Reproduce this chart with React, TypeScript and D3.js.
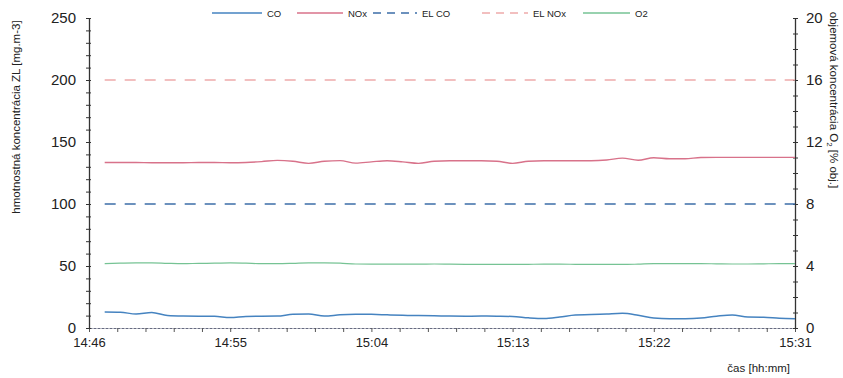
import React, { Component } from 'react'
import * as d3 from 'd3'

// measurement times (one sample per minute)
const times = [
	"14:47", "14:48", "14:49", "14:50", "14:51", "14:52", "14:53", "14:54", "14:55",
	"14:56", "14:57", "14:58", "14:59", "15:00", "15:01", "15:02", "15:03", "15:04",
	"15:05", "15:06", "15:07", "15:08", "15:09", "15:10", "15:11", "15:12", "15:13",
	"15:14", "15:15", "15:16", "15:17", "15:18", "15:19", "15:20", "15:21", "15:22",
	"15:23", "15:24", "15:25", "15:26", "15:27", "15:28", "15:29", "15:30", "15:31"
];

const coValues = [
	13, 12.8, 11.2, 12.5, 10, 9.6, 9.5, 9.4, 8.4,
	9.3, 9.5, 9.6, 11, 11.2, 9.6, 10.6, 11, 11,
	10.6, 10.2, 10, 9.8, 9.6, 9.5, 9.6, 9.5, 9.3,
	8.2, 7.6, 8.8, 10.5, 10.8, 11.3, 11.8, 10.3, 8,
	7.5, 7.5, 8, 9.5, 10.5, 8.8, 8.7, 7.8, 7.5
];

const noxValues = [
	133.5, 133.5, 133.5, 133.3, 133.3, 133.3, 133.5, 133.5, 133.3,
	133.5, 134.2, 135.2, 134.5, 132.8, 134.5, 135, 133, 134,
	134.9, 134, 132.8, 134.5, 134.9, 134.9, 134.9, 134.5, 132.8,
	134.5, 134.9, 134.9, 134.9, 134.9, 135.5, 137, 135.3, 137.3,
	136.5, 136.5, 137.5, 137.6, 137.6, 137.6, 137.6, 137.6, 137.6
];

// O2 is read on the right axis [% obj.]
const o2Values = [
	4.15, 4.18, 4.2, 4.2, 4.17, 4.15, 4.17, 4.18, 4.2,
	4.18, 4.15, 4.15, 4.17, 4.2, 4.2, 4.18, 4.13, 4.12,
	4.12, 4.12, 4.12, 4.13, 4.12, 4.11, 4.1, 4.1, 4.1,
	4.11, 4.12, 4.12, 4.11, 4.1, 4.1, 4.1, 4.12, 4.15,
	4.15, 4.15, 4.15, 4.14, 4.13, 4.13, 4.14, 4.15, 4.15
];

// emission limits
const elCo = 100;
const elNox = 200;

const xTickLabels = ["14:46", "14:55", "15:04", "15:13", "15:22", "15:31"];
const leftTicks = [0, 50, 100, 150, 200, 250];
const rightTicks = [0, 4, 8, 12, 16, 20];

const legendItems = [
	{ name: "CO", color: "#4583c0", dash: null },
	{ name: "NOx", color: "#d8728a", dash: null },
	{ name: "EL CO", color: "#3d6ea8", dash: "8,6" },
	{ name: "EL NOx", color: "#eeaaaa", dash: "8,6" },
	{ name: "O2", color: "#76c394", dash: null }
];

const W = 843;
const H = 378;
const margin = { left: 89, right: 48, top: 18, bottom: 50 };
const font = "'Liberation Sans', Arial, sans-serif";

class App extends Component {

	render() {
		return (
			<svg
				ref={(r) => this.node = r}
				width={W}
				height={H}
				style={{ position: "absolute", left: 0, top: 0, background: "#fff" }}
			/>
		);
	}

	componentDidMount() {
		this.plot();
	}

	plot() {
		const svg = d3.select(this.node);
		svg.selectAll("*").remove();

		const parse = d3.timeParse("%H:%M");
		const t0 = parse(xTickLabels[0]);
		const t1 = parse(xTickLabels[xTickLabels.length - 1]);
		const dates = times.map(parse);

		const x = d3.scaleTime().domain([t0, t1]).range([margin.left, W - margin.right]);
		const yL = d3.scaleLinear().domain([0, 250]).range([H - margin.bottom, margin.top]);
		const yR = d3.scaleLinear().domain([0, 20]).range([H - margin.bottom, margin.top]);

		// --- axes
		const minorX = d3.range(0, 26).map(i => new Date(t0.getTime() + i * 108000));
		const labelSet = new Set(xTickLabels);
		const fmt = d3.timeFormat("%H:%M");

		const xAxis = svg.append("g")
			.attr("transform", "translate(0," + (H - margin.bottom) + ")")
			.call(d3.axisBottom(x)
				.tickValues(minorX)
				.tickSizeInner(4)
				.tickSizeOuter(0)
				.tickPadding(6)
				.tickFormat(d => labelSet.has(fmt(d)) ? fmt(d) : ""));
		xAxis.select(".domain").attr("stroke", "#666a80").attr("stroke-dasharray", "3,1");
		xAxis.selectAll("line").attr("stroke", "#555");
		xAxis.selectAll("text")
			.attr("font-family", font)
			.attr("font-size", 13)
			.attr("fill", "#222");

		const leftAxis = svg.append("g")
			.attr("transform", "translate(" + margin.left + ",0)")
			.call(d3.axisLeft(yL)
				.tickValues(d3.range(0, 251, 10))
				.tickSizeInner(3)
				.tickSizeOuter(0)
				.tickPadding(10)
				.tickFormat(d => leftTicks.includes(d) ? d : ""));
		leftAxis.select(".domain").attr("stroke", "#333").attr("stroke-width", 1.3);
		leftAxis.selectAll("line").attr("x1", 2).attr("stroke", "#333");
		leftAxis.selectAll("text")
			.attr("font-family", font)
			.attr("font-size", 15)
			.attr("fill", "#222");

		const rightAxis = svg.append("g")
			.attr("transform", "translate(" + (W - margin.right) + ",0)")
			.call(d3.axisRight(yR)
				.tickValues(d3.range(0, 21, 1))
				.tickSizeInner(3)
				.tickSizeOuter(0)
				.tickPadding(8)
				.tickFormat(d => rightTicks.includes(d) ? d : ""));
		rightAxis.select(".domain").attr("stroke", "#333").attr("stroke-width", 1.3);
		rightAxis.selectAll("line").attr("x1", -2).attr("stroke", "#333");
		rightAxis.selectAll("text")
			.attr("font-family", font)
			.attr("font-size", 15)
			.attr("fill", "#222");

		// --- series
		const line = (scale) => d3.line()
			.x(d => x(d[0]))
			.y(d => scale(d[1]))
			.curve(d3.curveMonotoneX);

		const first = dates[0];
		const last = dates[dates.length - 1];

		svg.append("path")
			.datum([[first, elNox], [last, elNox]])
			.attr("d", line(yL))
			.attr("fill", "none")
			.attr("stroke", legendItems[3].color)
			.attr("stroke-width", 1.3)
			.attr("stroke-dasharray", "11,9");

		svg.append("path")
			.datum([[first, elCo], [last, elCo]])
			.attr("d", line(yL))
			.attr("fill", "none")
			.attr("stroke", legendItems[2].color)
			.attr("stroke-width", 1.3)
			.attr("stroke-dasharray", "11,9");

		svg.append("path")
			.datum(dates.map((d, i) => [d, noxValues[i]]))
			.attr("d", line(yL))
			.attr("fill", "none")
			.attr("stroke", legendItems[1].color)
			.attr("stroke-width", 1.4);

		svg.append("path")
			.datum(dates.map((d, i) => [d, o2Values[i]]))
			.attr("d", line(yR))
			.attr("fill", "none")
			.attr("stroke", legendItems[4].color)
			.attr("stroke-width", 1.2);

		svg.append("path")
			.datum(dates.map((d, i) => [d, coValues[i]]))
			.attr("d", line(yL))
			.attr("fill", "none")
			.attr("stroke", legendItems[0].color)
			.attr("stroke-width", 1.5);

		// --- legend
		const legendX = [212, 297, 373, 482, 583];
		const legendLen = [50, 46, 44, 46, 47];
		const legend = svg.append("g").attr("transform", "translate(0,13)");
		legendItems.forEach((it, i) => {
			legend.append("line")
				.attr("x1", legendX[i])
				.attr("x2", legendX[i] + legendLen[i])
				.attr("stroke", it.color)
				.attr("stroke-width", 1.3)
				.attr("stroke-dasharray", it.dash);
			legend.append("text")
				.attr("x", legendX[i] + legendLen[i] + 5)
				.attr("y", 3.5)
				.attr("font-family", font)
				.attr("font-size", 9.5)
				.attr("fill", "#222")
				.text(it.name);
		});

		// --- axis titles
		svg.append("text")
			.attr("transform", "translate(20,117) rotate(-90)")
			.attr("text-anchor", "middle")
			.attr("font-family", font)
			.attr("font-size", 11.5)
			.attr("fill", "#222")
			.text("hmotnostná koncentrácia ZL [mg.m-3]");

		const rt = svg.append("text")
			.attr("transform", "translate(830,100) rotate(90)")
			.attr("text-anchor", "middle")
			.attr("font-family", font)
			.attr("font-size", 11.5)
			.attr("fill", "#222");
		rt.append("tspan").text("objemová koncentrácia O");
		rt.append("tspan").attr("dy", 3).attr("font-size", 8).text("2");
		rt.append("tspan").attr("dy", -3).text(" [% obj.]");

		svg.append("text")
			.attr("x", 790)
			.attr("y", 372)
			.attr("text-anchor", "end")
			.attr("font-family", font)
			.attr("font-size", 11.5)
			.attr("fill", "#222")
			.text("čas [hh:mm]");
	}
}

export default App;
